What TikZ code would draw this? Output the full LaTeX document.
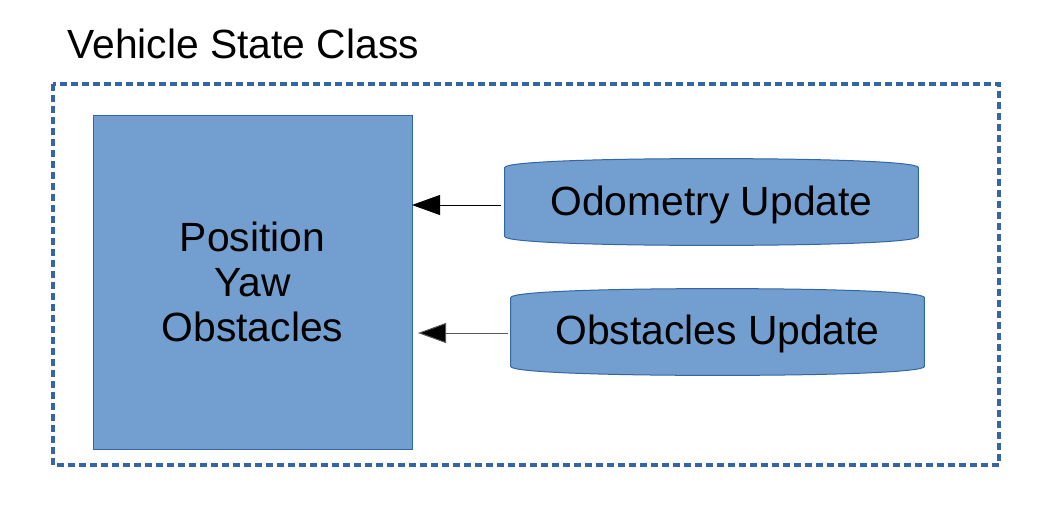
\documentclass[tikz,border=0pt]{standalone}
\usepackage{fontspec}
\setmainfont{Liberation Sans}
\usetikzlibrary{arrows.meta,calc}
\definecolor{boxfill}{HTML}{729FCF}
\definecolor{boxedge}{HTML}{3465A4}
\tikzset{
  px/.style={x=0.5pt,y=-0.5pt},
  lbl/.style={font=\fontsize{20.4}{22.5}\selectfont, text=black, inner sep=0pt},
  bigbox/.style={draw=boxedge, fill=boxfill, line width=0.5pt, minimum width=159.5pt, minimum height=167pt, align=center, lbl},
  drumnode/.style={minimum width=206.5pt, minimum height=43pt, lbl},
  drumline/.style={draw=boxedge, fill=boxfill, line width=0.5pt},
  frame/.style={draw=boxedge, line width=1.6pt, dash pattern=on 3.5pt off 2pt},
  conn/.style={line width=0.5pt, -{Triangle[length=14pt,width=10pt]}}
}
\newcommand\drumbox[1]{%
  \path[drumline] ($(#1.north west)+(0,-4.5pt)$) -- ($(#1.south west)+(0,4.5pt)$)
    .. controls +(0,-3pt) and +(-55pt,0) .. (#1.south)
    .. controls +(55pt,0) and +(0,-3pt) .. ($(#1.south east)+(0,4.5pt)$)
    -- ($(#1.north east)+(0,-4.5pt)$)
    .. controls +(0,3pt) and +(55pt,0) .. (#1.north)
    .. controls +(-55pt,0) and +(0,3pt) .. cycle;}
\begin{document}
\begin{tikzpicture}[px]
\useasboundingbox (0,0) rectangle (1058,519);
\node[lbl, anchor=base west] (title) at (67,59) {Vehicle State Class};
\draw[frame] (53,84) rectangle (999,465);
\node[bigbox] (state) at (252.5,282) {Position\\Yaw\\Obstacles};
\node[drumnode] (odo) at (711.5,202) {};
\drumbox{odo}
\node[lbl] at ([yshift=-1.5pt]odo.center) {Odometry Update};
\node[drumnode] (obs) at (717.5,332) {};
\drumbox{obs}
\node[lbl] at ([yshift=-1pt]obs.center) {Obstacles Update};
\coordinate (a1s) at (501,205);
\coordinate (a1e) at (412,205);
\coordinate (a2s) at (508,333);
\coordinate (a2e) at (418,333);
\draw[conn] (a1s) -- (a1e);
\draw[conn, draw=black!65, -{Triangle[length=14pt,width=10pt,fill=black]}] (a2s) -- (a2e);
\end{tikzpicture}
\end{document}
